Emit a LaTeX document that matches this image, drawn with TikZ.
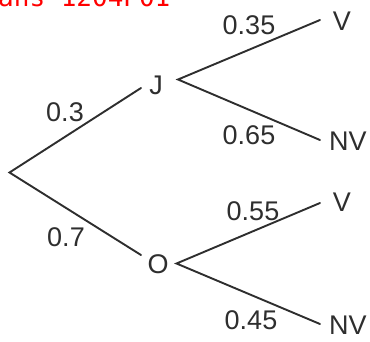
\documentclass[tikz,border=0pt]{standalone}
\usepackage{fontspec}
\setmainfont{Liberation Sans}
\newfontfamily\monofnt{DejaVu Sans Mono}
\definecolor{ink}{HTML}{2E2E2E}
\begin{document}
\begin{tikzpicture}[x=1pt,y=-1pt,
  lbl/.style={inner sep=0pt,text=ink,font=\fontsize{27}{31}\selectfont},
  br/.style={draw=ink,line width=1.9pt,line cap=round}]
\useasboundingbox (0,0) rectangle (370,341);
\begin{scope}
\clip (0,0) rectangle (370,341);
\node[anchor=base west,inner sep=0pt,text=red,font=\monofnt\fontsize{26}{30}\selectfont] (title) at (-2,6) {ans 1204P01};
\end{scope}
% nodes
\node[lbl] (J) at (156,85) {J};
\node[lbl] (O) at (158,264) {O};
\node[lbl] (V1) at (342,21) {V};
\node[lbl] (NV1) at (348,141) {NV};
\node[lbl] (V2) at (342,202) {V};
\node[lbl] (NV2) at (348,325) {NV};
% connector end points
\coordinate (R) at (9.5,172.5);
\coordinate (Jin) at (141,88);
\coordinate (Jout) at (178,79.5);
\coordinate (Oin) at (141,255);
\coordinate (Oout) at (176.5,263.5);
\coordinate (V1e) at (320,20);
\coordinate (NV1e) at (320,140);
\coordinate (V2e) at (320,203);
\coordinate (NV2e) at (320,324);
% branches
\draw[br] (Jin) -- (R) -- (Oin);
\draw[br] (V1e) -- (Jout) -- (NV1e);
\draw[br] (V2e) -- (Oout) -- (NV2e);
% probabilities
\node[lbl] (p03) at (65,112) {0.3};
\node[lbl] (p07) at (66,237) {0.7};
\node[lbl] (p035) at (249,25) {0.35};
\node[lbl] (p065) at (249,135) {0.65};
\node[lbl] (p055) at (253,211) {0.55};
\node[lbl] (p045) at (251,320) {0.45};
\end{tikzpicture}
\end{document}
